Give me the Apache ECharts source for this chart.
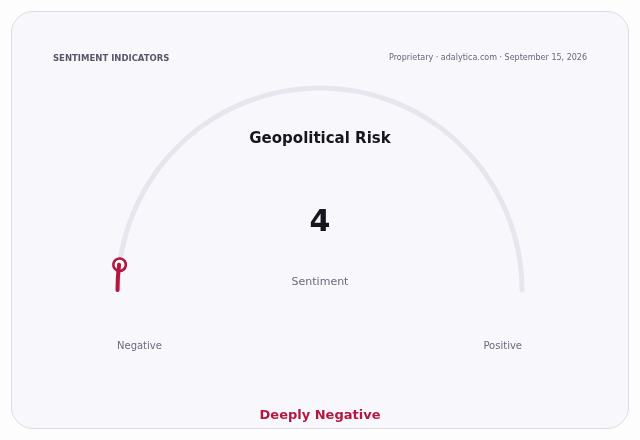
<!DOCTYPE html>
<html>
<head>
<meta charset="utf-8">
<script src="https://cdn.jsdelivr.net/npm/echarts@6/dist/echarts.min.js"></script>
<style>
  html, body { margin: 0; padding: 0; background: #fdfdfe; }
  #wrap { position: relative; width: 640px; height: 440px; }
  #card { position: absolute; left: 11px; top: 11px; width: 616px; height: 416px;
          border: 1px solid #dcdce6; border-radius: 22px; background: #f8f8fc; }
  #chart { position: absolute; left: 0; top: 0; width: 640px; height: 440px; }
</style>
</head>
<body>
<div id="wrap"><div id="card"></div><div id="chart"></div></div>
<script>
const headerLeft = 'SENTIMENT INDICATORS';
const headerRight = 'Proprietary · adalytica.com · September 15, 2026';
const gaugeTitle = 'Geopolitical Risk';
const metricName = 'Sentiment';
const gaugeValues = [4];
const scaleMin = 0;
const scaleMax = 100;
const endLabels = ['Negative', 'Positive'];
const verdict = 'Deeply Negative';

const RED = '#b3173f';
const FONT = 'DejaVu Sans';

const chart = echarts.init(document.getElementById('chart'), null, { renderer: 'canvas' });
chart.setOption({
  backgroundColor: 'transparent',
  title: [
    { text: headerLeft, left: 53, top: 54, padding: 0,
      textStyle: { fontFamily: FONT, fontSize: 8.5, fontWeight: 'bold', color: '#575769' } },
    { text: headerRight, right: 53, top: 54, padding: 0,
      textStyle: { fontFamily: FONT, fontSize: 8, fontWeight: 'normal', color: '#66667a' } },
    { text: gaugeTitle, left: 'center', top: 132, padding: 0,
      textStyle: { fontFamily: FONT, fontSize: 15, fontWeight: 'bold', color: '#16161e' } },
    { text: endLabels[0], left: 117, top: 341, padding: 0,
      textStyle: { fontFamily: FONT, fontSize: 10, fontWeight: 'normal', color: '#6a6a7c' } },
    { text: endLabels[1], right: 118, top: 341, padding: 0,
      textStyle: { fontFamily: FONT, fontSize: 10, fontWeight: 'normal', color: '#6a6a7c' } },
    { text: verdict, left: 'center', top: 409, padding: 0,
      textStyle: { fontFamily: FONT, fontSize: 13, fontWeight: 'bold', color: RED } }
  ],
  series: [{
    type: 'gauge',
    center: [320, 290],
    radius: 204.5,
    startAngle: 180,
    endAngle: 0,
    min: scaleMin,
    max: scaleMax,
    animation: false,
    axisLine: { roundCap: true, lineStyle: { width: 5, color: [[1, '#e6e6ee']] } },
    progress: { show: true, width: 4, roundCap: true, itemStyle: { color: RED } },
    splitLine: { show: false },
    axisTick: { show: false },
    axisLabel: { show: false },
    anchor: { show: false },
    pointer: {
      show: true, icon: 'circle', width: 12.5, length: 12.5, offsetCenter: [0, -195.75],
      itemStyle: { color: '#ffffff', borderColor: RED, borderWidth: 2.6 }
    },
    title: { show: true, offsetCenter: [0, -8], fontFamily: FONT, fontSize: 11, color: '#6a6a7c' },
    detail: { show: true, offsetCenter: [0, -67], formatter: '{value}', fontFamily: FONT,
              fontSize: 30, fontWeight: 'bold', color: '#16161e' },
    data: gaugeValues.map(v => ({ value: v, name: metricName }))
  }]
});
</script>
</body>
</html>
